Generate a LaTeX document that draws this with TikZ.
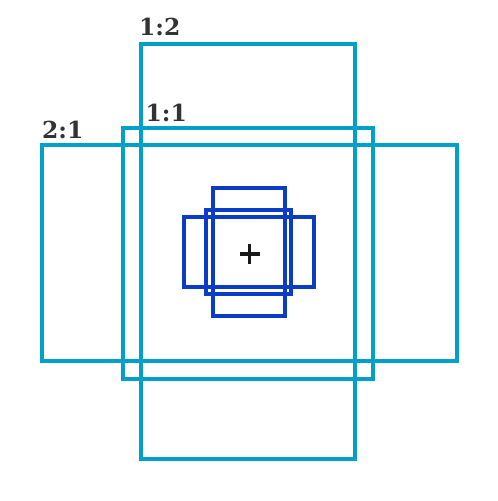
\documentclass[tikz,border=0pt]{standalone}
\usepackage{fontspec}
\newfontfamily\ratioFont{DejaVu Serif}
\definecolor{anchorOuter}{HTML}{00A0C8}
\definecolor{anchorInner}{HTML}{0A3CC8}
\definecolor{labelGray}{HTML}{333333}
\newlength\lineWidth
\setlength\lineWidth{3.2bp}

\begin{document}
\begin{tikzpicture}[x=1bp,y=-1bp,
    outerbox/.style={draw=anchorOuter,line width=\lineWidth},
    innerbox/.style={draw=anchorInner,line width=\lineWidth},
    ratiolabel/.style={font=\ratioFont\bfseries\fontsize{23.5}{28}\selectfont,
      text=labelGray,inner sep=0pt,anchor=base west}]
    \useasboundingbox (0,0) rectangle (498,501);

    % large anchors
    \foreach \xa/\ya/\xb/\yb in {141/44/355/459,123/128/373/379,42/145/457/361} {
      \draw[outerbox] (\xa,\ya) rectangle (\xb,\yb);
    }

    % small anchors
    \foreach \xa/\ya/\xb/\yb in {213/188/285/316,206/210/291/294,184/217/314/287} {
      \draw[innerbox] (\xa,\ya) rectangle (\xb,\yb);
    }

    % ratio labels
    \foreach \x/\y/\txt/\nm in {139/36/1:2/lblTall,145.5/122/1:1/lblSquare,42/139/2:1/lblWide} {
      \node[ratiolabel] (\nm) at (\x,\y) {\txt};
    }

    % center mark
    \coordinate (center) at (249.5,254);
    \draw[line width=3.3bp,black!90] ([xshift=-10bp]center) -- ([xshift=10bp]center);
    \draw[line width=3.3bp,black!90] ([yshift=-10bp]center) -- ([yshift=10bp]center);
  \end{tikzpicture}
\end{document}
